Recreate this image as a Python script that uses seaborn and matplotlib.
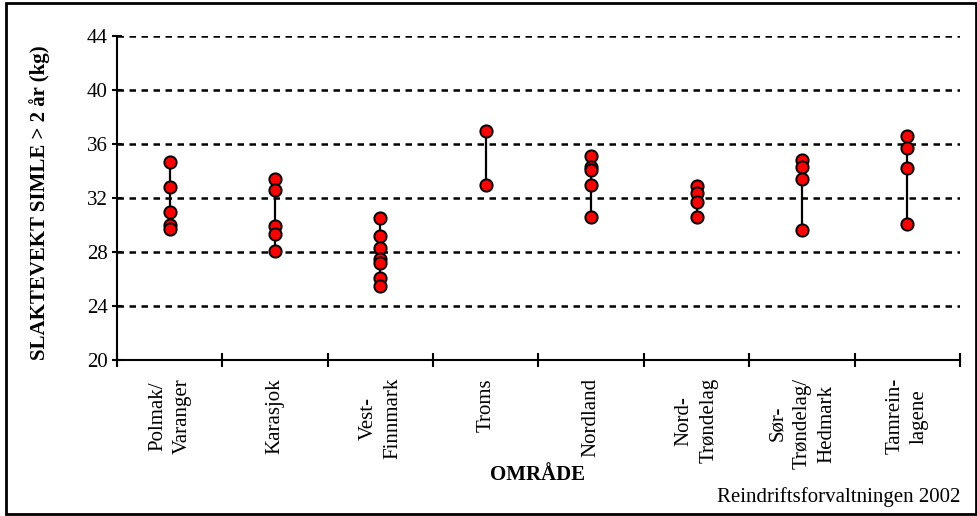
import numpy as np
import pandas as pd
import matplotlib
matplotlib.use("Agg")
import matplotlib.pyplot as plt
import seaborn as sns
from matplotlib.patches import Rectangle

# Areas (x axis) and slaughter weights per area
categories = ["Polmak/\nVaranger", "Karasjok", "Vest-\nFinnmark", "Troms", "Nordland",
              "Nord-\nTrøndelag", "Sør-\nTrøndelag/\nHedmark", "Tamrein-\nlagene"]
polmak = [34.7, 32.8, 31.0, 30.0, 29.7]
karasjok = [33.4, 32.6, 29.9, 29.3, 28.1]
vest_finnmark = [30.5, 29.2, 28.3, 27.5, 27.2, 26.1, 25.5]
troms = [37.0, 33.0]
nordland = [35.1, 34.3, 34.1, 33.0, 30.6]
nord_trondelag = [32.9, 32.4, 31.7, 30.6]
sor_trondelag = [34.8, 34.3, 33.4, 29.6]
tamrein = [36.6, 35.7, 34.2, 30.1]

yticks = [20, 24, 28, 32, 36, 40, 44]
ylabel = "SLAKTEVEKT SIMLE > 2 år (kg)"
xlabel = "OMRÅDE"
source = "Reindriftsforvaltningen 2002"

series = [polmak, karasjok, vest_finnmark, troms, nordland, nord_trondelag, sor_trondelag, tamrein]
df = pd.DataFrame({
    "omrade": [c for c, vals in zip(categories, series) for _ in vals],
    "vekt": [v for vals in series for v in vals],
})

sns.set_style("white")
plt.rcParams["font.family"] = ["Liberation Serif", "DejaVu Serif"]
plt.rcParams["text.color"] = "black"
plt.rcParams["xtick.color"] = "black"
plt.rcParams["ytick.color"] = "black"

fig = plt.figure(figsize=(9.78, 5.16), dpi=100)
ax = fig.add_axes([117 / 978, 1 - 360 / 516, (960 - 117) / 978, (360 - 36) / 516])

# min-max range lines per area
rng = df.groupby("omrade", sort=False)["vekt"].agg(["min", "max"]).reindex(categories)
ax.vlines(np.arange(len(categories)), rng["min"], rng["max"], color="black", lw=1.6, zorder=2)

sns.stripplot(data=df, x="omrade", y="vekt", order=categories, jitter=False,
              color="#ff0000", edgecolor="black", linewidth=1.4, size=8.8, ax=ax, zorder=3)

ax.set_xlim(-0.5, len(categories) - 0.5)
ax.set_ylim(20, 44)
ax.set_yticks(yticks)
ax.yaxis.grid(True, color="black", linestyle=(0, (2.6, 2.2)), lw=1.8)
ax.xaxis.grid(False)
ax.set_axisbelow(True)

ax.set_xticks(np.arange(-0.5, len(categories)), labels=[])
ax.set_xticks(np.arange(len(categories)), labels=categories, minor=True)
for lbl in ax.get_xticklabels(minor=True):
    lbl.set_rotation(90)
    lbl.set_va("top")
    lbl.set_ha("center")
    lbl.set_multialignment("center")
    lbl.set_linespacing(1.4)

ax.tick_params(axis="x", which="major", bottom=True, direction="inout", length=10, width=1.5)
ax.tick_params(axis="x", which="minor", bottom=True, length=0, pad=13, labelsize=15)
ax.tick_params(axis="y", left=True, direction="inout", length=7, width=1.5, labelsize=15, pad=3)

for s in ["top", "right"]:
    ax.spines[s].set_visible(False)
for s in ["left", "bottom"]:
    ax.spines[s].set_color("black")
    ax.spines[s].set_linewidth(1.5)

ax.set_xlabel("")
ax.set_ylabel("")
fig.text(40 / 978, 1 - 203 / 516, ylabel, rotation=90, ha="center", va="center",
         fontsize=15, fontweight="bold")
fig.text(538 / 978, 1 - 475 / 516, xlabel, ha="center", va="center",
         fontsize=15, fontweight="bold")
fig.text(960 / 978, 1 - 497 / 516, source, ha="right", va="center", fontsize=15)

# frame around the whole picture
fig.patches.append(Rectangle((6 / 978, 2 / 516), 970 / 978, 511 / 516, transform=fig.transFigure,
                             fill=False, edgecolor="black", lw=2))

fig.savefig("out.png", dpi=100)
